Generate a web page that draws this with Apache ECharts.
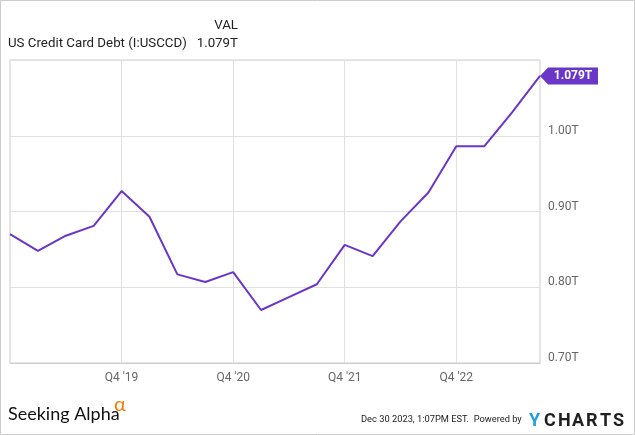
<!DOCTYPE html>
<html>
<head>
<meta charset="utf-8">
<script src="https://cdn.jsdelivr.net/npm/echarts@6/dist/echarts.min.js"></script>
<style>
html,body{margin:0;padding:0;background:#fff;}
#c{width:635px;height:435px;}
</style>
</head>
<body>
<div id="c"></div>
<script>
var categories = ["Q4 '18","Q1 '19","Q2 '19","Q3 '19","Q4 '19","Q1 '20","Q2 '20","Q3 '20","Q4 '20","Q1 '21","Q2 '21","Q3 '21","Q4 '21","Q1 '22","Q2 '22","Q3 '22","Q4 '22","Q1 '23","Q2 '23","Q3 '23"];
var debtValues = [0.870,0.848,0.868,0.881,0.927,0.893,0.817,0.807,0.820,0.770,0.787,0.804,0.856,0.841,0.887,0.925,0.986,0.986,1.031,1.079];
var seriesName = "US Credit Card Debt (I:USCCD)";
var lastLabel = "1.079T";
var yTicks = [0.70, 0.80, 0.90, 1.00, 1.10];

var lineColor = '#6a36c8';
var chart = echarts.init(document.getElementById('c'));
var lastIdx = debtValues.length - 1;

var logoLetters = ['Y','C','H','A','R','T','S'];
var logoX = [529, 544, 558, 572, 586, 600, 613];
var logoGraphics = logoLetters.map(function(ch, i){
  return {type:'text', left: logoX[i], top: 412, style:{text: ch, font:'bold 18px Roboto', fill: i===0 ? '#1e9fe0' : '#1f1f1f'}};
});

chart.setOption({
  animation:false,
  backgroundColor:'#fff',
  grid:{left:10, right:95, top:60, bottom:72, show:true, borderColor:'#cccccc', borderWidth:1},
  xAxis:{
    type:'category', data:categories, boundaryGap:false,
    axisLine:{show:true, lineStyle:{color:'#cccccc'}},
    axisTick:{show:false},
    axisLabel:{
      interval:function(i){return i>0 && i%4===0;},
      color:'#666', fontFamily:'Roboto', fontSize:12, margin:9
    },
    splitLine:{show:true, interval:function(i){return i>0 && i%4===0;}, lineStyle:{color:'#e0e0e0'}}
  },
  yAxis:{
    type:'value', position:'right', min:yTicks[0], max:yTicks[yTicks.length-1], interval:0.1,
    axisLine:{show:false}, axisTick:{show:false},
    axisLabel:{
      formatter:function(v){ return v > 1.05 ? '' : v.toFixed(2)+'T'; },
      color:'#666', fontFamily:'Roboto', fontSize:12, margin:8,
      verticalAlign:'bottom', lineHeight:10
    },
    splitLine:{show:true, lineStyle:{color:'#e0e0e0'}}
  },
  series:[{
    name:seriesName, type:'line', data:debtValues, symbol:'none',
    lineStyle:{color:lineColor, width:2},
    markPoint:{
      symbol:'path://M0,8.5 L8,0 L58,0 L58,17 L8,17 Z',
      symbolSize:[58,17], symbolKeepAspect:false, symbolOffset:[29,0],
      itemStyle:{color:lineColor},
      label:{show:true, formatter:lastLabel, color:'#fff', fontFamily:'Roboto', fontWeight:'bold', fontSize:12, offset:[4,0]},
      data:[{coord:[lastIdx, debtValues[lastIdx]]}]
    }
  }],
  graphic:[
    {type:'rect', shape:{x:0.5, y:0.5, width:634, height:434}, style:{fill:null, stroke:'#cccccc', lineWidth:1}, silent:true},
    {type:'text', right:635-238, top:19, style:{text:'VAL', font:'13.3px Roboto', fill:'#222', textAlign:'right'}},
    {type:'text', left:8, top:37, style:{text:seriesName, font:'13.3px Roboto', fill:'#222'}},
    {type:'text', right:635-238, top:37, style:{text:lastLabel, font:'13.3px Roboto', fill:'#222'}},
    {type:'text', left:8, top:405, style:{text:'Seeking Alpha', font:'18px Lato', fill:'#111'}},
    {type:'text', left:114, top:395, style:{text:'\u03b1', font:'20px Lato', fill:'#f57c00'}},
    {type:'text', left:361, top:415, style:{text:'Dec 30 2023, 1:07PM EST.  Powered by', font:'9.3px Roboto', fill:'#222'}}
  ].concat(logoGraphics)
});
</script>
</body>
</html>
